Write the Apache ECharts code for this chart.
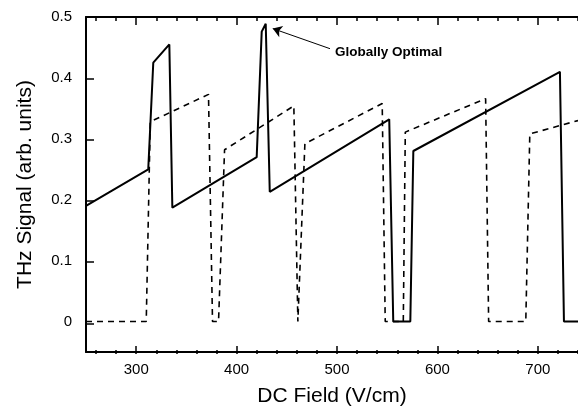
<!DOCTYPE html>
<html>
    <head>
        <meta charset="UTF-8">
        <title></title>
        <script src="https://cdn.jsdelivr.net/npm/echarts@6/dist/echarts.min.js"></script>
    </head>
    <body style="margin:0;background:#fff">
        <div id="main" style="width:578px;height:412px;"></div>
        <script>
            // solid curve (field in V/cm, signal)
            var solidX = [250, 312, 317, 333, 336, 420, 425, 429, 433, 552, 556, 573, 576, 722, 726, 740];
            var solidY = [0.19, 0.25, 0.425, 0.455, 0.187, 0.27, 0.476, 0.489, 0.213, 0.332, 0, 0, 0.28, 0.41, 0, 0];
            // dashed curve
            var dashX = [250, 310, 314, 372, 376, 382, 388, 457, 461, 462, 468, 545, 548, 566, 568, 648, 651, 688, 692, 740];
            var dashY = [0, 0, 0.328, 0.373, 0, 0, 0.282, 0.354, 0, 0, 0.292, 0.358, 0, 0, 0.311, 0.366, 0, 0, 0.308, 0.33];

            var xLabels = [300, 400, 500, 600, 700];
            var yLabels = [0, 0.1, 0.2, 0.3, 0.4, 0.5];

            var arrowFrom = [493, 0.448];
            var arrowTo = [436, 0.481];
            var note = 'Globally Optimal';

            function pairs(xs, ys) {
                return xs.map(function (x, i) { return [x, ys[i]]; });
            }

            var font = 'Liberation Sans, Arial, sans-serif';
            var chart = echarts.init(document.getElementById('main'));

            // main plot: 250..740 over 492px, -0.05..0.5 over 337px
            var W = 86, H = 17, PW = 492, PH = 337;
            var px = function (v) { return W + (v - 250) / 490 * PW; };
            var py = function (v) { return H + (0.5 - v) / 0.55 * PH; };

            // tick-only axes (no data), each on a grid lined up with the main one
            function tickX(grid, pos, lo, hi, step, len) {
                return {
                    gridIndex: grid, type: 'value', position: pos, min: lo, max: hi, interval: step,
                    axisLine: { show: false, onZero: false },
                    axisTick: { show: true, inside: true, length: len, lineStyle: { color: '#000', width: 1.5 } },
                    axisLabel: { show: false }, splitLine: { show: false }
                };
            }
            function hidden(grid) {
                return { gridIndex: grid, type: 'value', show: false, min: 0, max: 1 };
            }

            chart.setOption({
                animation: false,
                grid: [
                    { left: W, top: H, right: 0, bottom: 58 },
                    { left: W, top: py(0.4), right: 0, bottom: 412 - py(0) },
                    { left: px(300), top: H, right: 578 - px(700), bottom: 58 },
                    { left: px(260), top: H, right: 0, bottom: 58 }
                ],
                xAxis: [
                    {
                        type: 'value', position: 'bottom', min: 250, max: 740,
                        axisLine: { show: true, onZero: false, lineStyle: { color: '#000', width: 2 } },
                        axisTick: { show: false },
                        axisLabel: { customValues: xLabels, color: '#000',
                            fontFamily: font, fontSize: 15, margin: 10 },
                        splitLine: { show: false },
                        name: 'DC Field (V/cm)',
                        nameLocation: 'middle', nameGap: 34,
                        nameTextStyle: { color: '#000', fontFamily: font, fontSize: 21 }
                    },
                    {
                        type: 'value', position: 'top', min: 250, max: 740,
                        axisLine: { show: true, onZero: false, lineStyle: { color: '#000', width: 2 } },
                        axisTick: { show: false }, axisLabel: { show: false }, splitLine: { show: false }
                    },
                    hidden(1),
                    tickX(2, 'bottom', 300, 700, 100, 8),
                    tickX(2, 'top', 300, 700, 100, 8),
                    tickX(3, 'bottom', 260, 740, 20, 4),
                    tickX(3, 'top', 260, 740, 20, 4)
                ],
                yAxis: [
                    {
                        type: 'value', min: -0.05, max: 0.5,
                        axisLine: { show: true, onZero: false, lineStyle: { color: '#000', width: 2 } },
                        axisTick: { show: false },
                        axisLabel: { customValues: yLabels, color: '#000', fontFamily: font,
                            fontSize: 15, margin: 14 },
                        splitLine: { show: false },
                        name: 'THz Signal (arb. units)',
                        nameLocation: 'middle', nameGap: 50,
                        nameTextStyle: { color: '#000', fontFamily: font, fontSize: 21 }
                    },
                    {
                        gridIndex: 1, type: 'value', min: 0, max: 0.4, interval: 0.1,
                        axisLine: { show: false, onZero: false },
                        axisTick: { show: true, inside: true, length: 8, lineStyle: { color: '#000', width: 1.5 } },
                        axisLabel: { show: false }, splitLine: { show: false }
                    },
                    hidden(2),
                    hidden(3)
                ],
                series: [
                    {
                        type: 'line', data: pairs(solidX, solidY), symbol: 'none',
                        lineStyle: { color: '#000', width: 2 },
                        markLine: {
                            silent: true, symbolSize: 9,
                            label: { show: false },
                            lineStyle: { color: '#000', width: 1, type: 'solid' },
                            data: [[{ coord: arrowFrom, symbol: 'none' }, { coord: arrowTo, symbol: 'arrow' }]]
                        }
                    },
                    {
                        type: 'line', data: pairs(dashX, dashY), symbol: 'none',
                        lineStyle: { color: '#000', width: 1.6, type: [6, 5] }
                    }
                ],
                graphic: [{
                    type: 'text', left: 335, top: 45,
                    style: { text: note, fill: '#000', font: 'bold 13.5px ' + font }
                }]
            });
        </script>
    </body>
</html>
